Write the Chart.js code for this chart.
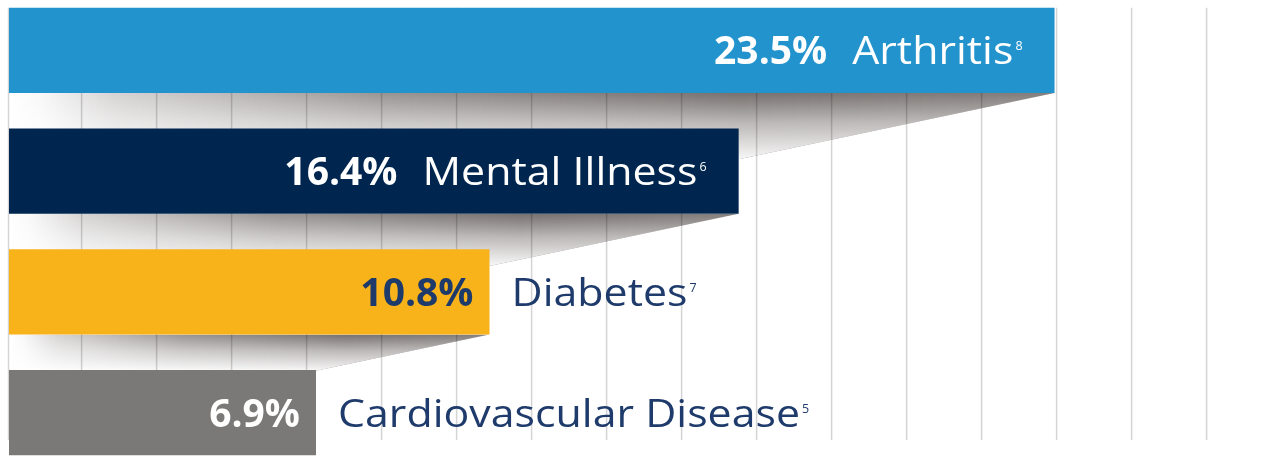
<!DOCTYPE html>
<html><head><meta charset="utf-8">
<script src="https://cdn.jsdelivr.net/npm/chart.js@4.4.1/dist/chart.umd.min.js"></script>
<style>
html,body{margin:0;padding:0;background:#fff;overflow:hidden;width:1277px;height:456px;}
#wrap{position:absolute;left:0;top:-10px;width:1277px;height:483px;}
canvas{display:block;}
</style></head>
<body><div id="wrap"><canvas id="c" width="1277" height="483"></canvas></div>
<script>
// ---- data ----
const categories = ['Arthritis', 'Mental Illness', 'Diabetes', 'Cardiovascular Disease'];
const footnotes  = ['8', '6', '7', '5'];
const values     = [23.5, 16.4, 10.8, 6.9];

// ---- style ----
const barColors     = ['#2293cd', '#00264f', '#f8b31a', '#7b7977'];
const percentColors = ['#ffffff', '#ffffff', '#1d3a6a', '#ffffff'];
const navyText = '#1e3b6b';
const FONT = '"Open Sans", "Noto Sans", sans-serif';
const PCT_SIZE = 39, NAME_SIZE = 39, SUP_SIZE = 12.5, CAP = 28;
const NAME_STRETCH = 1.1;       // wide geometric look of the original typeface
const INSIDE_MIN = 12;          // values at or above this carry their name inside the bar
const X_MAX = 28.5;             // value axis range
const GRID_STEP_PX = 75;        // spacing of the background grid

const decor = {
  id: 'decor',
  beforeDatasetsDraw(chart) {
    const ctx = chart.ctx;
    const bars = chart.getDatasetMeta(0).data;
    const area = chart.chartArea;
    // cast shadows below each bar
    for (let i = 0; i < bars.length - 1; i++) {
      const b = bars[i], n = bars[i + 1];
      const left = b.base, right = b.x, bottom = b.y + b.height / 2;
      const nRight = n.x;
      const yEnd = bottom + (right - nRight) * 0.21;
      ctx.save();
      ctx.beginPath();
      ctx.moveTo(left, bottom);
      ctx.lineTo(right, bottom);
      ctx.lineTo(nRight, yEnd);
      ctx.lineTo(left, yEnd);
      ctx.closePath();
      ctx.clip();
      const g = ctx.createLinearGradient(left, 0, right, 0);
      g.addColorStop(0, 'rgba(118,112,110,0)');
      g.addColorStop(0.03, 'rgba(118,112,110,0.05)');
      g.addColorStop(0.1, 'rgba(118,112,110,0.3)');
      g.addColorStop(0.36, 'rgba(118,112,110,0.75)');
      g.addColorStop(0.7, 'rgba(118,112,110,1)');
      g.addColorStop(1, 'rgba(118,112,110,0.9)');
      ctx.fillStyle = g;
      ctx.fillRect(left, bottom, right - left, yEnd - bottom);
      ctx.globalCompositeOperation = 'destination-out';
      const v = ctx.createLinearGradient(0, bottom, 0, yEnd);
      v.addColorStop(0, 'rgba(0,0,0,0)');
      v.addColorStop(0.45, 'rgba(0,0,0,0.5)');
      v.addColorStop(1, 'rgba(0,0,0,0.95)');
      ctx.fillStyle = v;
      ctx.fillRect(left, bottom, right - left, yEnd - bottom);
      ctx.restore();
    }
    // grid lines from the hidden grid scale
    const gs = chart.scales.g;
    const top = bars[0].y - bars[0].height / 2;
    const bot = area.bottom - 33;
    ctx.save();
    ctx.strokeStyle = 'rgba(0,0,0,0.17)';
    ctx.lineWidth = 1.5;
    ctx.beginPath();
    ctx.moveTo(area.left - 0.5, top); ctx.lineTo(area.left - 0.5, bot);
    for (let k = Math.ceil(gs.min); k <= Math.floor(gs.max); k++) {
      const px = gs.getPixelForValue(k);
      ctx.moveTo(px, top); ctx.lineTo(px, bot);
    }
    ctx.stroke();
    ctx.restore();
  },
  afterDatasetsDraw(chart) {
    const ctx = chart.ctx;
    const bars = chart.getDatasetMeta(0).data;
    ctx.save();
    ctx.textBaseline = 'alphabetic';
    ctx.textAlign = 'left';
    bars.forEach((b, i) => {
      const end = b.x, base = b.y + CAP / 2;
      const pct = values[i].toFixed(1) + '%';
      const pf = `bold ${PCT_SIZE}px ${FONT}`, nf = `${NAME_SIZE}px ${FONT}`, sf = `${SUP_SIZE}px ${FONT}`;
      ctx.font = pf; const wP = ctx.measureText(pct).width;
      ctx.font = nf; const wN = ctx.measureText(categories[i]).width * NAME_STRETCH;
      let px, nx, nColor;
      if (values[i] >= INSIDE_MIN) {
        ctx.font = sf; const wS = ctx.measureText(footnotes[i]).width;
        const total = wP + 25 + wN + 2 + wS;
        px = end - 32 - total; nx = px + wP + 25; nColor = '#ffffff';
      } else {
        px = end - 16 - wP; nx = end + 22; nColor = navyText;
      }
      ctx.fillStyle = percentColors[i];
      ctx.font = pf; ctx.fillText(pct, px, base);
      ctx.fillStyle = nColor;
      ctx.font = nf;
      ctx.save();
      ctx.translate(nx, base);
      ctx.scale(NAME_STRETCH, 1);
      ctx.fillText(categories[i], 0, 0);
      ctx.restore();
      ctx.font = sf; ctx.fillText(footnotes[i], nx + wN + 2, base - 14);
    });
    ctx.restore();
  }
};

new Chart(document.getElementById('c'), {
  type: 'bar',
  data: {
    labels: categories,
    datasets: [{
      data: values,
      backgroundColor: barColors,
      borderWidth: 0,
      barPercentage: 0.704,
      categoryPercentage: 1
    }]
  },
  options: {
    indexAxis: 'y',
    responsive: false,
    animation: false,
    devicePixelRatio: 1,
    layout: { padding: { left: 9, right: 0, top: 0, bottom: 0 } },
    plugins: { legend: { display: false }, tooltip: { enabled: false } },
    scales: {
      x: { min: 0, max: X_MAX, display: false },
      g: { type: 'linear', axis: 'x', position: 'top', display: false, min: 0.032, max: 0.032 + 1268 / GRID_STEP_PX },
      y: { display: false }
    }
  },
  plugins: [decor]
});
</script>
</body></html>
